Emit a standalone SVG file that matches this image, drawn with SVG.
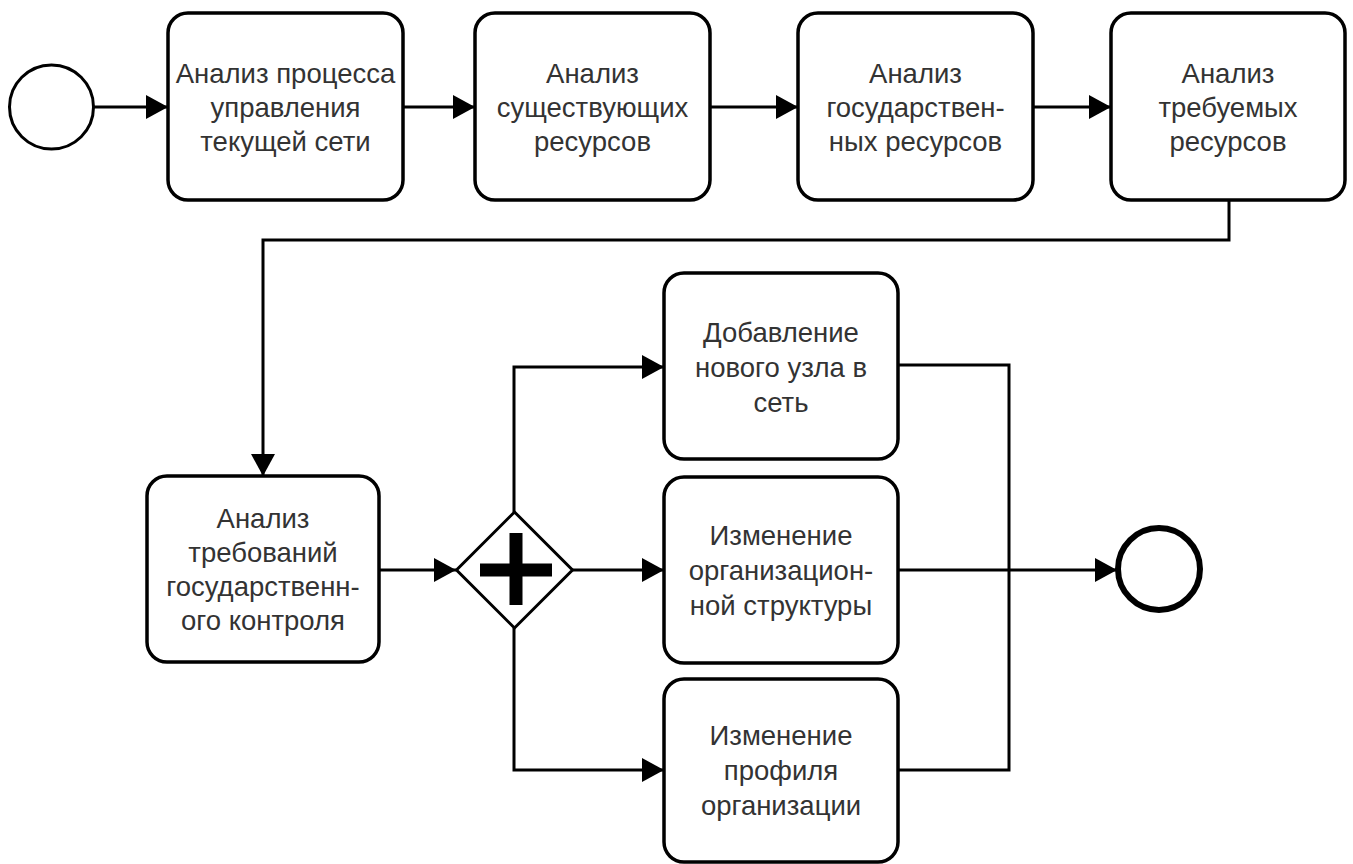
<svg xmlns="http://www.w3.org/2000/svg" width="1353" height="864" viewBox="0 0 1353 864">
<style>
.task{fill:#fff;stroke:#000;stroke-width:3.5}
.lbl{font-family:"Liberation Sans",Arial,sans-serif;font-size:27.5px;fill:#333;text-anchor:middle;dominant-baseline:central}
.edge{fill:none;stroke:#000;stroke-width:3}
</style>
<defs>
<marker id="arr" viewBox="0 0 22 24" refX="22" refY="12" markerWidth="22" markerHeight="24" markerUnits="userSpaceOnUse" orient="auto">
<path d="M0,0 L22,12 L0,24 z" fill="#000"/>
</marker>
</defs>
<rect width="1353" height="864" fill="#fff"/>
<g id="connectors">
<path class="edge" d="M94,107 L168,107" marker-end="url(#arr)"/>
<path class="edge" d="M403,107 L475,107" marker-end="url(#arr)"/>
<path class="edge" d="M710,107 L798,107" marker-end="url(#arr)"/>
<path class="edge" d="M1033,107 L1111,107" marker-end="url(#arr)"/>
<path class="edge" d="M1229,200 L1229,240 L263,240 L263,476" marker-end="url(#arr)"/>
<path class="edge" d="M379,570 L456,570" marker-end="url(#arr)"/>
<path class="edge" d="M514,512 L514,367 L664,367" marker-end="url(#arr)"/>
<path class="edge" d="M572,570 L664,570" marker-end="url(#arr)"/>
<path class="edge" d="M514,628 L514,770 L664,770" marker-end="url(#arr)"/>
<path class="edge" d="M898,365 L1009,365 L1009,770 L898,770"/>
<path class="edge" d="M898,570 L1117,570" marker-end="url(#arr)"/>
</g>
<g id="start">
<circle cx="51.5" cy="107" r="42" fill="#fff" stroke="#000" stroke-width="3"/>
</g>
<g id="t1">
<rect class="task" x="168" y="13" width="235" height="187" rx="20"/>
<text class="lbl" x="285.5" y="73">Анализ процесса</text>
<text class="lbl" x="285.5" y="107">управления</text>
<text class="lbl" x="285.5" y="141">текущей сети</text>
</g>
<g id="t2">
<rect class="task" x="475" y="13" width="235" height="187" rx="20"/>
<text class="lbl" x="592.5" y="73">Анализ</text>
<text class="lbl" x="592.5" y="107">существующих</text>
<text class="lbl" x="592.5" y="141">ресурсов</text>
</g>
<g id="t3">
<rect class="task" x="798" y="13" width="235" height="187" rx="20"/>
<text class="lbl" x="915.5" y="73">Анализ</text>
<text class="lbl" x="915.5" y="107">государствен-</text>
<text class="lbl" x="915.5" y="141">ных ресурсов</text>
</g>
<g id="t4">
<rect class="task" x="1111" y="13" width="234" height="187" rx="20"/>
<text class="lbl" x="1228" y="73">Анализ</text>
<text class="lbl" x="1228" y="107">требуемых</text>
<text class="lbl" x="1228" y="141">ресурсов</text>
</g>
<g id="t5">
<rect class="task" x="147" y="476" width="232" height="186" rx="20"/>
<text class="lbl" x="263" y="518">Анализ</text>
<text class="lbl" x="263" y="552">требований</text>
<text class="lbl" x="263" y="586">государственн-</text>
<text class="lbl" x="263" y="620">ого контроля</text>
</g>
<g id="gateway">
<path d="M514.5,512 L572.5,570 L514.5,628 L456.5,570 z" fill="#fff" stroke="#000" stroke-width="3"/>
<path d="M480,570 L552,570 M516,533 L516,605" stroke="#000" stroke-width="13" fill="none"/>
</g>
<g id="t6">
<rect class="task" x="664" y="273" width="234" height="186" rx="20"/>
<text class="lbl" x="781" y="332">Добавление</text>
<text class="lbl" x="781" y="367">нового узла в</text>
<text class="lbl" x="781" y="402">сеть</text>
</g>
<g id="t7">
<rect class="task" x="664" y="477" width="234" height="186" rx="20"/>
<text class="lbl" x="781" y="535">Изменение</text>
<text class="lbl" x="781" y="570">организацион-</text>
<text class="lbl" x="781" y="605">ной структуры</text>
</g>
<g id="t8">
<rect class="task" x="664" y="679" width="234" height="183" rx="20"/>
<text class="lbl" x="781" y="735">Изменение</text>
<text class="lbl" x="781" y="770">профиля</text>
<text class="lbl" x="781" y="805">организации</text>
</g>
<g id="end">
<circle cx="1159" cy="569" r="41" fill="#fff" stroke="#000" stroke-width="6"/>
</g>
</svg>
